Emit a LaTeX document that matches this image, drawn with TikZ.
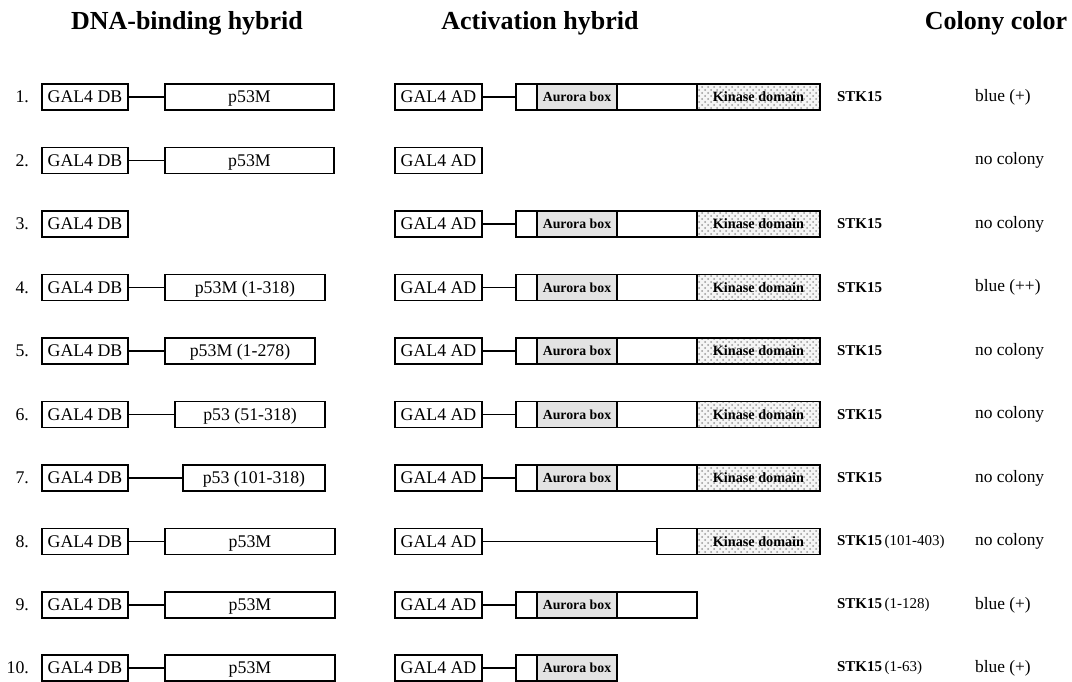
\documentclass[tikz,border=0pt]{standalone}
\usepackage{fontspec}
\setmainfont{Liberation Serif}[BoldFont={Liberation Serif Bold}]
\usetikzlibrary{positioning,patterns}
\begin{document}
\begin{tikzpicture}[x=0.5pt,y=-0.5pt,
    box/.style={draw,line width=0.75pt,inner sep=0pt,outer sep=0pt,minimum height=13pt,
      text height=6.2pt,text depth=0.3pt,font=\fontsize{8.9}{10}\selectfont},
    db/.style={box,minimum width=43pt},
    ad/.style={box,minimum width=43.5pt},
    lead/.style={box,minimum width=10.5pt},
    mid/.style={box,minimum width=40pt},
    aurora/.style={box,minimum width=40pt,fill=gray!22,text height=4.9pt,text depth=0.2pt,
      font=\fontsize{6.9}{8}\selectfont\bfseries},
    kinase/.style={box,minimum width=61.5pt,preaction={fill=gray!8},pattern=crosshatch dots,
      pattern color=gray!80,text height=5pt,text depth=0.2pt,font=\fontsize{7.1}{8}\selectfont\bfseries},
    num/.style={anchor=east,font=\fontsize{8.9}{10}\selectfont},
    gene/.style={anchor=west,font=\fontsize{7.5}{9}\selectfont\bfseries},
    colony/.style={anchor=west,font=\fontsize{8.7}{10}\selectfont},
    head/.style={font=\bfseries\fontsize{13}{15}\selectfont},
    link/.style={line width=0.75pt}]
  \useasboundingbox (0,0) rectangle (1072,681);
  % column heads
  \node[head] (hdb) at (187,23) {DNA-binding hybrid};
  \node[head] (had) at (540,23) {Activation hybrid};
  \node[head] (hcol) at (996,23) {Colony color};

  % 1
  \node[num] (n1) at (36,97) {1.};
  \node[db] (db1) at (85,97) {GAL4 DB};
  \node[box,minimum width=84.5pt] (p1) at (249.5,97) {p53M};
  \node[ad] (ad1) at (438.5,97) {GAL4 AD};
  \node[lead] (s1) at (526.5,97) {};
  \node[aurora,right=0pt of s1] (au1) {Aurora box};
  \node[mid,right=0pt of au1] (m1) {};
  \node[kinase,right=0pt of m1] (k1) {Kinase domain};
  \node[gene] (g1) at (830,97) {STK15};
  \node[colony] (c1) at (968,97) {blue (+)};
  \draw[link] (db1) -- (p1) (ad1) -- (s1);

  % 2
  \node[num] (n2) at (36,160.5) {2.};
  \node[db] (db2) at (85,160.5) {GAL4 DB};
  \node[box,minimum width=84.5pt] (p2) at (249.5,160.5) {p53M};
  \node[ad] (ad2) at (438.5,160.5) {GAL4 AD};
  \node[colony] (c2) at (968,160.5) {no colony};
  \draw[link] (db2) -- (p2);

  % 3
  \node[num] (n3) at (36,224) {3.};
  \node[db] (db3) at (85,224) {GAL4 DB};
  \node[ad] (ad3) at (438.5,224) {GAL4 AD};
  \node[lead] (s3) at (526.5,224) {};
  \node[aurora,right=0pt of s3] (au3) {Aurora box};
  \node[mid,right=0pt of au3] (m3) {};
  \node[kinase,right=0pt of m3] (k3) {Kinase domain};
  \node[gene] (g3) at (830,224) {STK15};
  \node[colony] (c3) at (968,224) {no colony};
  \draw[link] (ad3) -- (s3);

  % 4
  \node[num] (n4) at (36,287.5) {4.};
  \node[db] (db4) at (85,287.5) {GAL4 DB};
  \node[box,minimum width=80pt] (p4) at (245,287.5) {p53M (1-318)};
  \node[ad] (ad4) at (438.5,287.5) {GAL4 AD};
  \node[lead] (s4) at (526.5,287.5) {};
  \node[aurora,right=0pt of s4] (au4) {Aurora box};
  \node[mid,right=0pt of au4] (m4) {};
  \node[kinase,right=0pt of m4] (k4) {Kinase domain};
  \node[gene] (g4) at (830,287.5) {STK15};
  \node[colony] (c4) at (968,287.5) {blue (++)};
  \draw[link] (db4) -- (p4) (ad4) -- (s4);

  % 5
  \node[num] (n5) at (36,351) {5.};
  \node[db] (db5) at (85,351) {GAL4 DB};
  \node[box,minimum width=75pt] (p5) at (240,351) {p53M (1-278)};
  \node[ad] (ad5) at (438.5,351) {GAL4 AD};
  \node[lead] (s5) at (526.5,351) {};
  \node[aurora,right=0pt of s5] (au5) {Aurora box};
  \node[mid,right=0pt of au5] (m5) {};
  \node[kinase,right=0pt of m5] (k5) {Kinase domain};
  \node[gene] (g5) at (830,351) {STK15};
  \node[colony] (c5) at (968,351) {no colony};
  \draw[link] (db5) -- (p5) (ad5) -- (s5);

  % 6
  \node[num] (n6) at (36,414.5) {6.};
  \node[db] (db6) at (85,414.5) {GAL4 DB};
  \node[box,minimum width=75pt] (p6) at (250,414.5) {p53 (51-318)};
  \node[ad] (ad6) at (438.5,414.5) {GAL4 AD};
  \node[lead] (s6) at (526.5,414.5) {};
  \node[aurora,right=0pt of s6] (au6) {Aurora box};
  \node[mid,right=0pt of au6] (m6) {};
  \node[kinase,right=0pt of m6] (k6) {Kinase domain};
  \node[gene] (g6) at (830,414.5) {STK15};
  \node[colony] (c6) at (968,414.5) {no colony};
  \draw[link] (db6) -- (p6) (ad6) -- (s6);

  % 7
  \node[num] (n7) at (36,478) {7.};
  \node[db] (db7) at (85,478) {GAL4 DB};
  \node[box,minimum width=71pt] (p7) at (254,478) {p53 (101-318)};
  \node[ad] (ad7) at (438.5,478) {GAL4 AD};
  \node[lead] (s7) at (526.5,478) {};
  \node[aurora,right=0pt of s7] (au7) {Aurora box};
  \node[mid,right=0pt of au7] (m7) {};
  \node[kinase,right=0pt of m7] (k7) {Kinase domain};
  \node[gene] (g7) at (830,478) {STK15};
  \node[colony] (c7) at (968,478) {no colony};
  \draw[link] (db7) -- (p7) (ad7) -- (s7);

  % 8
  \node[num] (n8) at (36,541.5) {8.};
  \node[db] (db8) at (85,541.5) {GAL4 DB};
  \node[box,minimum width=85pt] (p8) at (250,541.5) {p53M};
  \node[ad] (ad8) at (438.5,541.5) {GAL4 AD};
  \node[box,minimum width=20pt] (m8) at (677,541.5) {};
  \node[kinase,right=0pt of m8] (k8) {Kinase domain};
  \node[gene] (g8) at (830,541.5) {STK15\,{\normalfont(101-403)}};
  \node[colony] (c8) at (968,541.5) {no colony};
  \draw[link] (db8) -- (p8) (ad8) -- (m8);

  % 9
  \node[num] (n9) at (36,605) {9.};
  \node[db] (db9) at (85,605) {GAL4 DB};
  \node[box,minimum width=85pt] (p9) at (250,605) {p53M};
  \node[ad] (ad9) at (438.5,605) {GAL4 AD};
  \node[lead] (s9) at (526.5,605) {};
  \node[aurora,right=0pt of s9] (au9) {Aurora box};
  \node[mid,right=0pt of au9] (m9) {};
  \node[gene] (g9) at (830,605) {STK15\,{\normalfont(1-128)}};
  \node[colony] (c9) at (968,605) {blue (+)};
  \draw[link] (db9) -- (p9) (ad9) -- (s9);

  % 10
  \node[num] (n10) at (36,668) {10.};
  \node[db] (db10) at (85,668) {GAL4 DB};
  \node[box,minimum width=85pt] (p10) at (250,668) {p53M};
  \node[ad] (ad10) at (438.5,668) {GAL4 AD};
  \node[lead] (s10) at (526.5,668) {};
  \node[aurora,right=0pt of s10] (au10) {Aurora box};
  \node[gene] (g10) at (830,668) {STK15\,{\normalfont(1-63)}};
  \node[colony] (c10) at (968,668) {blue (+)};
  \draw[link] (db10) -- (p10) (ad10) -- (s10);
\end{tikzpicture}
\end{document}
